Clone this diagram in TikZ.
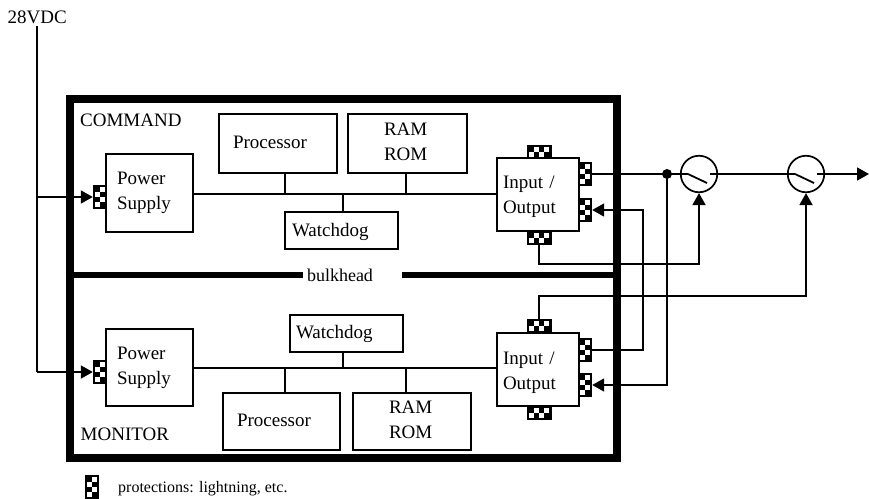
\documentclass[tikz,border=0pt]{standalone}
\usepackage{fontspec}
\setmainfont{Liberation Serif}
\usetikzlibrary{arrows.meta}

\tikzset{
  block/.style n args={3}{draw,line width=1.7pt,inner ysep=0pt,inner xsep=#1pt,text width=#2pt,minimum height=#3pt,
    align=left,font=\fontsize{19}{25}\selectfont,
    execute at begin node=\rule{0pt}{13pt},execute at end node=\rule[-4pt]{0pt}{4pt}},
  label/.style={inner sep=0pt,font=\fontsize{19}{22}\selectfont},
  wire/.style={line width=1.8pt},
  into/.style={wire,-{Triangle[length=12pt,width=13pt]}},
  sw/.style={draw,circle,line width=1.7pt,minimum size=36.5pt,inner sep=0pt},
  protv/.style={fill=black,inner sep=0pt,minimum width=14pt,minimum height=24pt,path picture={
    \foreach \row/\col in {0/0,1/1,2/0,3/1}
      \fill[white] ([xshift=2pt+\col*5pt,yshift=2pt+\row*5pt]path picture bounding box.south west) rectangle ++(5pt,5pt);}},
  proth/.style={fill=black,inner sep=0pt,minimum width=25pt,minimum height=14pt,path picture={
    \foreach \row/\col in {0/0,1/1,2/0,3/1}
      \fill[white] ([xshift=2.5pt+\row*5pt,yshift=2pt+\col*5pt]path picture bounding box.south west) rectangle ++(5pt,5pt);}},
}

\begin{document}
\begin{tikzpicture}[x=1pt,y=-1pt]
  \useasboundingbox (0,0) rectangle (869,498);

  % enclosure
  \node[draw,line width=8.2pt,minimum width=547.4pt,minimum height=359pt,inner sep=0pt] (frame) at (343.3,278.5) {};
  \node[label,font=\fontsize{18}{22}\selectfont,inner xsep=4pt,text width=91pt,minimum height=6pt] (bulk) at (352.5,275) {bulkhead};
  \draw[line width=6pt] (frame.west |- bulk) -- (bulk.west);
  \draw[line width=6pt] (bulk.east) -- (frame.east |- bulk);
  \node[label,anchor=base west] (cmd) at (80,126) {COMMAND};
  \node[label,anchor=base west] (mon) at (80.5,440) {MONITOR};

  % command lane
  \node[block={11}{65}{78}] (cmdps) at (149.5,193) {\rule{0pt}{11pt}Power\\Supply};
  \node[block={14}{90}{59}] (cmdproc) at (278,143.5) {Processor};
  \node[block={36}{47}{59}] (cmdram) at (407.5,143.5) {RAM\\ROM};
  \node[block={7}{99}{37}] (cmdwd) at (341.5,230.5) {\rule{0pt}{17pt}Watchdog};
  \node[block={6}{70}{73}] (cmdio) at (538,194.5) {\rule{0pt}{18pt}Input /\\Output};
  \node[protv] (cmdin) at (100,197) {};
  \node[proth] (cmdtop) at (539,151.5) {};
  \node[proth] (cmdbot) at (539,238) {};
  \node[protv] (cmdout) at (585,174) {};
  \node[protv] (cmdfb) at (585,210) {};

  % monitor lane
  \node[block={11}{65}{77}] (monps) at (149.5,367.5) {Power\\Supply};
  \node[block={6}{101}{37}] (monwd) at (346.5,333.5) {\rule{0pt}{15pt}Watchdog};
  \node[block={14}{89}{57}] (monproc) at (281.5,421.5) {Processor};
  \node[block={36}{46}{57}] (monram) at (412,421.5) {RAM\\ROM};
  \node[block={6}{70}{73}] (monio) at (538,369.5) {\rule{0pt}{20pt}Input /\\Output};
  \node[protv] (monin) at (100,372) {};
  \node[proth] (montop) at (539,326) {};
  \node[proth] (monbot) at (539,413) {};
  \node[protv] (monout) at (585,350) {};
  \node[protv] (monfb) at (585,385) {};

  % switches
  \node[sw] (swa) at (699,174) {};
  \node[sw] (swb) at (806,174) {};
  \draw[wire] (swa.center) ++(-11,0) -- ++(19,9);
  \draw[wire] (swb.center) ++(-11,0) -- ++(19,9);

  % supply
  \node[label,anchor=base west] (vdc) at (7.5,23) {28VDC};
  \coordinate (feed) at (37,372);
  \coordinate (feedtop) at (37,26);
  \draw[wire] (feedtop) -- (feed);
  \draw[into] (cmdin.west -| feed) -- (cmdin.west);
  \draw[into] (feed) -- (monin.west);

  % internal buses
  \coordinate (cmdjp) at (285,194);
  \coordinate (cmdjw) at (343,194);
  \coordinate (cmdjr) at (406,194);
  \draw[wire] (cmdps.east |- cmdjw) -- (cmdio.west |- cmdjw);
  \draw[wire] (cmdjp) -- (cmdjp |- cmdproc.south);
  \draw[wire] (cmdjr) -- (cmdjr |- cmdram.south);
  \draw[wire] (cmdjw) -- (cmdjw |- cmdwd.north);
  \coordinate (monjp) at (285,368);
  \coordinate (monjw) at (343,368);
  \coordinate (monjr) at (406,368);
  \draw[wire] (monps.east |- monjw) -- (monio.west |- monjw);
  \draw[wire] (monjp) -- (monjp |- monproc.north);
  \draw[wire] (monjr) -- (monjr |- monram.north);
  \draw[wire] (monjw) -- (monjw |- monwd.south);

  % outputs and cross feeds
  \coordinate (dot) at (667,174);
  \coordinate (tip) at (869,174);
  \coordinate (xfeed) at (643,210);
  \coordinate (lowa) at (620,264);
  \coordinate (lowb) at (620,296);
  \draw[wire] (cmdout.east) -- ([xshift=-11pt]swa.center);
  \draw[wire] ([xshift=11pt]swa.center) -- ([xshift=-11pt]swb.center);
  \draw[into] ([xshift=11pt]swb.center) -- (tip);
  \fill (dot) circle (5pt);
  \draw[into] (dot) |- (monfb.east);
  \draw[into] (monout.east) -| (xfeed) -- (cmdfb.east);
  \draw[into] (cmdbot.south) |- (lowa) -| (swa.south);
  \draw[into] (montop.north) |- (lowb) -| (swb.south);

  % legend
  \node[protv] (key) at (91.5,486.5) {};
  \node[label,font=\fontsize{16}{18}\selectfont,anchor=base west] (keytxt) at (118,492) {protections: lightning, etc.};
\end{tikzpicture}
\end{document}
